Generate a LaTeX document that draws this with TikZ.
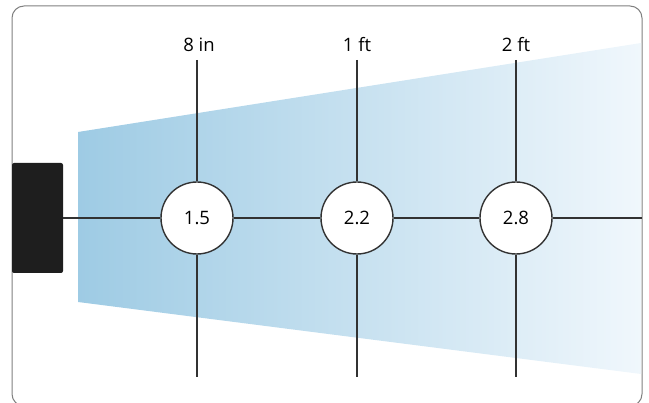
\documentclass[tikz,border=0pt]{standalone}
\usepackage{fontspec}
\setmainfont{Open Sans}
\usepackage{tikz}
\usetikzlibrary{positioning}
\usetikzlibrary{calc}
\definecolor{beamblue}{RGB}{158,203,228}
\definecolor{beamfade}{RGB}{240,247,252}
\definecolor{rulegray}{RGB}{50,50,50}
\definecolor{lampblack}{RGB}{30,30,30}
\def\lineY{218}
\def\ringD{72}

\begin{document}
\begin{tikzpicture}[x=1pt,y=-1pt,font=\fontsize{18.5}{22}\selectfont]
        \useasboundingbox (0,0) rectangle (649,403);
        % frame
        \draw[gray, line width=1pt, rounded corners=12pt] (12,6) rectangle (642,406);

        % light beam
        \shade[left color=beamblue, right color=beamfade] (78,132) -- (641,43)
        -- (641,374) -- (78,302) -- cycle;

        % lamp head
        \node[fill=lampblack, rounded corners=2pt, minimum width=51pt,
              minimum height=110pt, inner sep=0pt] (lamp) at (37.5,\lineY) {};

        % distance rings
        \node[circle, draw=rulegray, line width=1.4pt, fill=white,
              minimum size=\ringD pt, inner sep=0pt] (ringA) at (197,\lineY) {1.5};
        \node[circle, draw=rulegray, line width=1.4pt, fill=white,
              minimum size=\ringD pt, inner sep=0pt] (ringB) at (357,\lineY) {2.2};
        \node[circle, draw=rulegray, line width=1.4pt, fill=white,
              minimum size=\ringD pt, inner sep=0pt] (ringC) at (516,\lineY) {2.8};

        \coordinate (axisEnd) at (642,\lineY);
        \coordinate (topA) at (197,60);
        \coordinate (topB) at (357,60);
        \coordinate (topC) at (516,60);
        \coordinate (botA) at (197,377);
        \coordinate (botB) at (357,377);
        \coordinate (botC) at (516,377);

        % axis
        \draw[rulegray, line width=2pt] (lamp.east) -- (ringA) -- (ringB)
        -- (ringC) -- (axisEnd);

        \draw[rulegray, line width=1.4pt] (topA) -- (ringA) -- (botA);
        \draw[rulegray, line width=1.4pt] (topB) -- (ringB) -- (botB);
        \draw[rulegray, line width=1.4pt] (topC) -- (ringC) -- (botC);

        \node[anchor=base, inner sep=0pt] (distA) at (199,52) {8 in};
        \node[anchor=base, inner sep=0pt] (distB) at (357,52) {1 ft};
        \node[anchor=base, inner sep=0pt] (distC) at (516,52) {2 ft};
    \end{tikzpicture}
\end{document}
